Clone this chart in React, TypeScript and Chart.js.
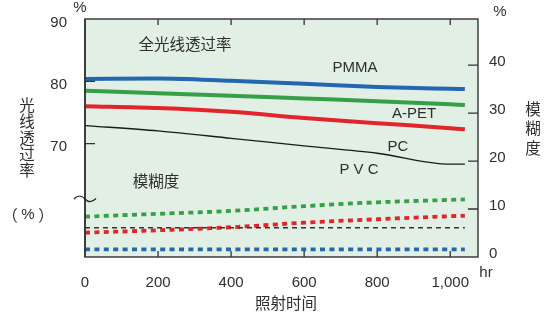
import React, { useEffect, useRef } from 'react';
import { Chart, registerables } from 'chart.js';
Chart.register(...registerables);

// ---- data ----
const hours = [0, 200, 400, 600, 800, 1000, 1040];
const pmmaTrans = [80.35, 80.45, 80.08, 79.6, 79.1, 78.8, 78.75];
const apetTrans = [78.47, 78.1, 77.7, 77.25, 76.8, 76.3, 76.2];
const pcTrans = [76.0, 75.7, 75.1, 74.1, 73.28, 72.48, 72.3];
const pvcTrans = [72.9, 72.04, 70.85, 69.63, 68.45, 66.7, 66.7];
const pmmaHaze = [1.6, 1.6, 1.6, 1.6, 1.6, 1.6, 1.6];
const apetHaze = [8.4, 9.0, 9.6, 10.6, 11.4, 11.9, 12.0];
const pcHaze = [5.07, 5.57, 6.2, 7.16, 7.87, 8.5, 8.6];
const pvcHaze = [6.1, 6.1, 6.1, 6.1, 6.1, 6.1, 6.1];
const xTicks = [0, 200, 400, 600, 800, 1000];
const leftTicks = [70, 80, 90];
const rightTicks = [0, 10, 20, 30, 40];

const BLUE = '#2367b1';
const GREEN = '#36a048';
const RED = '#e2252b';
const BLACK = '#1a1a1a';
const BG = '#e2efe4';
const TXT = '#2e2e2e';
const LATIN = '"Liberation Sans", Arial, sans-serif';
const CJK = '"Noto Sans CJK SC", sans-serif';

const pts = (ys: number[]) => hours.map((x, i) => ({ x, y: ys[i] }));

const deco = {
  id: 'deco',
  beforeDraw(chart: any) {
    const { ctx, chartArea: a } = chart;
    ctx.save();
    ctx.fillStyle = BG;
    ctx.fillRect(a.left, a.top, a.right - a.left, a.bottom - a.top);
    ctx.restore();
  },
  afterDraw(chart: any) {
    const { ctx, chartArea: a, scales } = chart;
    ctx.save();
    ctx.strokeStyle = '#333';
    ctx.lineWidth = 1.4;
    ctx.strokeRect(a.left, a.top, a.right - a.left, a.bottom - a.top);
    ctx.lineWidth = 1.6;
    ctx.beginPath();
    ctx.moveTo(a.left, a.top);
    ctx.lineTo(a.left, a.bottom);
    ctx.stroke();
    // inward ticks
    ctx.lineWidth = 1.3;
    ctx.beginPath();
    xTicks.forEach((v) => {
      if (v === 0) return;
      const px = scales.x.getPixelForValue(v);
      ctx.moveTo(px, a.bottom);
      ctx.lineTo(px, a.bottom - 6);
      ctx.moveTo(px, a.top);
      ctx.lineTo(px, a.top + 6);
    });
    leftTicks.forEach((v) => {
      if (v === 90) return;
      const py = scales.yL.getPixelForValue(v);
      ctx.moveTo(a.left, py);
      ctx.lineTo(a.left + 10, py);
    });
    rightTicks.forEach((v) => {
      if (v === 0) return;
      const py = scales.yR.getPixelForValue(v);
      ctx.moveTo(a.right, py);
      ctx.lineTo(a.right - 10, py);
    });
    ctx.stroke();
    // break mark
    ctx.lineWidth = 1.2;
    ctx.strokeStyle = '#222';
    ctx.beginPath();
    ctx.moveTo(74, 199);
    ctx.bezierCurveTo(78, 194.5, 82, 195.5, 85, 199);
    ctx.bezierCurveTo(88, 202.5, 92, 202.5, 96, 198.5);
    ctx.stroke();
    // texts
    ctx.fillStyle = TXT;
    ctx.textAlign = 'center';
    ctx.textBaseline = 'middle';
    const t = (s: string, x: number, y: number, f: string) => {
      ctx.font = f;
      ctx.fillText(s, x, y);
    };
    const lf = `15px ${LATIN}`;
    const cf = `15.5px ${CJK}`;
    t('%', 80, 8, lf);
    t('%', 500, 12, lf);
    t('hr', 486, 273, lf);
    t('全光线透过率', 185, 44, cf);
    t('PMMA', 355, 68, lf);
    t('A-PET', 414, 114, lf);
    t('PC', 398, 147, lf);
    t('P V C', 359, 170, lf);
    t('模糊度', 156, 181, cf);
    t('照射时间', 286, 303, cf);
    ['光', '线', '透', '过', '率'].forEach((c, i) => t(c, 27, 105 + i * 16.4, cf));
    t('（', 10, 215, cf);
    t('%', 28, 215, lf);
    t('）', 46, 215, cf);
    ['模', '糊', '度'].forEach((c, i) => t(c, 533, 109 + i * 19.5, cf));
    ctx.restore();
  },
};

const noPad = (s: any) => {
  s.paddingTop = 0;
  s.paddingBottom = 0;
  s.paddingLeft = 0;
  s.paddingRight = 0;
};

export default function App() {
  const ref = useRef<HTMLCanvasElement>(null);
  useEffect(() => {
    if (!ref.current) return;
    const solid = (label: string, ys: number[], color: string, w: number) => ({
      label,
      data: pts(ys),
      yAxisID: 'yL',
      borderColor: color,
      borderWidth: w,
      pointRadius: 0,
      fill: false,
      cubicInterpolationMode: 'monotone' as const,
    });
    const dotted = (label: string, ys: number[], color: string, w: number, dash: number[]) => ({
      label,
      data: pts(ys),
      yAxisID: 'yR',
      borderColor: color,
      borderWidth: w,
      borderDash: dash,
      borderCapStyle: 'butt' as const,
      pointRadius: 0,
      fill: false,
      cubicInterpolationMode: 'monotone' as const,
    });
    const chart = new Chart(ref.current, {
      type: 'line',
      data: {
        datasets: [
          solid('PVC', pvcTrans, BLACK, 1.3),
          solid('PC', pcTrans, RED, 4),
          solid('A-PET', apetTrans, GREEN, 4),
          solid('PMMA', pmmaTrans, BLUE, 4),
          dotted('PVC haze', pvcHaze, '#333', 1.3, [5, 4]),
          dotted('PC haze', pcHaze, RED, 3.8, [5, 4.4]),
          dotted('A-PET haze', apetHaze, GREEN, 3.8, [5, 4.4]),
          dotted('PMMA haze', pmmaHaze, BLUE, 3.8, [5, 4.4]),
        ],
      },
      options: {
        responsive: false,
        animation: false,
        layout: { padding: { top: 19, left: 0, right: 0, bottom: 0 } },
        plugins: { legend: { display: false }, tooltip: { enabled: false } },
        scales: {
          x: {
            type: 'linear',
            min: 0,
            max: 1076,
            afterBuildTicks: (s: any) => {
              s.ticks = xTicks.map((v) => ({ value: v }));
            },
            afterFit: (s: any) => {
              s.height = 57;
              noPad(s);
            },
            grid: { display: false, drawTicks: false },
            border: { display: false },
            ticks: {
              autoSkip: false,
              maxRotation: 0,
              padding: 17,
              color: TXT,
              font: { family: LATIN, size: 15 },
              callback: (v: any) => Number(v).toLocaleString('en-US'),
            },
          },
          yL: {
            type: 'linear',
            position: 'left',
            min: 51.8,
            max: 90,
            afterBuildTicks: (s: any) => {
              s.ticks = leftTicks.map((v) => ({ value: v }));
            },
            afterFit: (s: any) => {
              s.width = 85;
              noPad(s);
            },
            grid: { display: false, drawTicks: false },
            border: { display: false },
            ticks: { padding: 18, labelOffset: 3.5, color: TXT, font: { family: LATIN, size: 15 } },
          },
          yR: {
            type: 'linear',
            position: 'right',
            min: 0,
            max: 49.6,
            afterBuildTicks: (s: any) => {
              s.ticks = rightTicks.map((v) => ({ value: v }));
            },
            afterFit: (s: any) => {
              s.width = 72;
              noPad(s);
            },
            grid: { display: false, drawTicks: false },
            border: { display: false },
            ticks: { padding: 11, labelOffset: -3.5, color: TXT, font: { family: LATIN, size: 15 } },
          },
        },
      },
      plugins: [deco],
    });
    return () => chart.destroy();
  }, []);
  return (
    <div style={{ position: 'absolute', left: 0, top: 0, width: 550, height: 314 }}>
      <canvas ref={ref} width={550} height={314} />
    </div>
  );
}
